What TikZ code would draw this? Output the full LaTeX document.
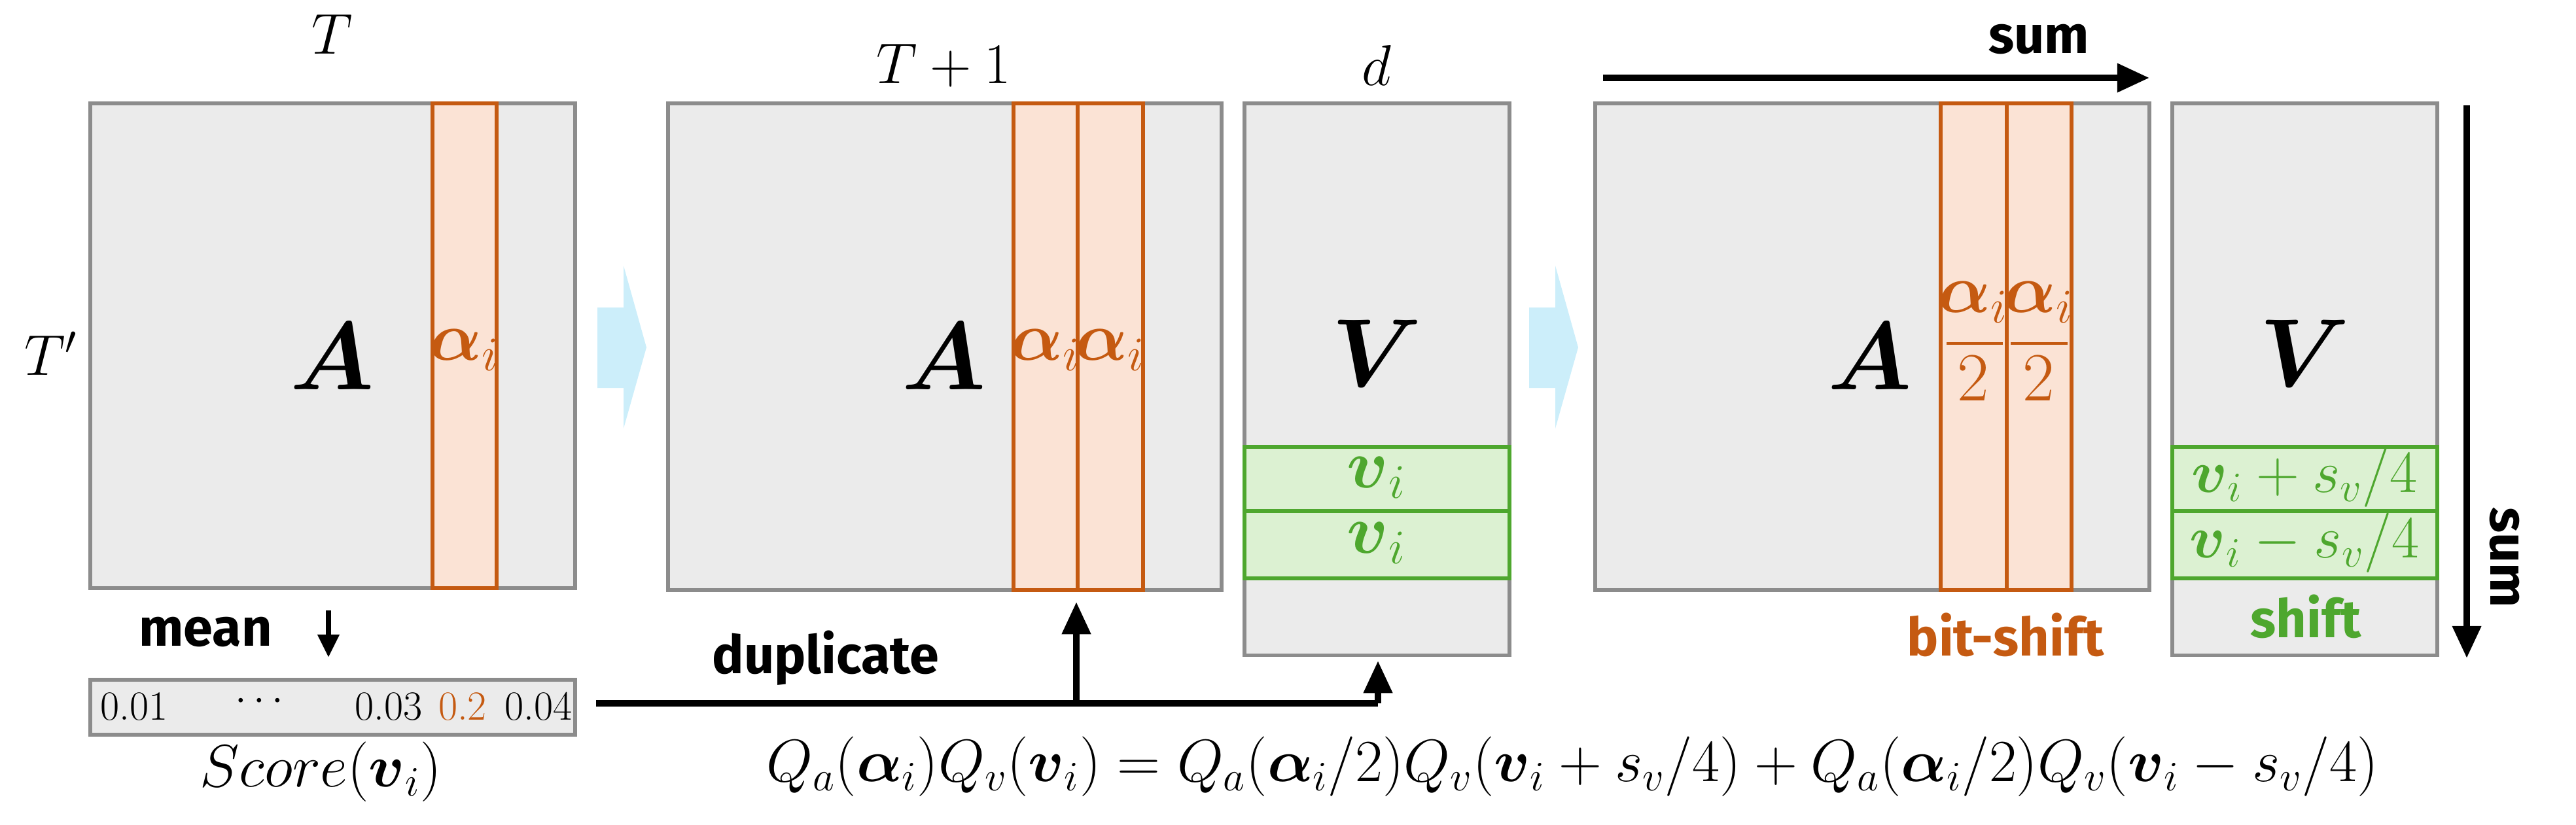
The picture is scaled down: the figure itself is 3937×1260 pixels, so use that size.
\RequirePackage{fix-cm}
\documentclass[tikz,border=0pt]{standalone}
\usepackage{amsmath}
\usepackage{fontspec}
\newfontfamily\sansb{Fira Sans}
\usetikzlibrary{arrows.meta}
\definecolor{gfill}{HTML}{EBEBEB}
\definecolor{gline}{HTML}{8C8C8C}
\definecolor{ored}{HTML}{C55A11}
\definecolor{ofill}{HTML}{FBE3D5}
\definecolor{grn}{HTML}{4EA72E}
\definecolor{gfl}{HTML}{DCF1D2}
\definecolor{lblue}{HTML}{CCEEFA}
\newcommand{\fs}[1]{\fontsize{#1}{#1}\selectfont}
\begin{document}
\begin{tikzpicture}[x=0.01cm,y=-0.01cm,
 box/.style={draw=gline,fill=gfill,line width=1.7pt,inner sep=0,outer sep=0,anchor=north west},
 obox/.style={draw=ored,fill=ofill,line width=1.7pt,inner sep=0,outer sep=0,anchor=north west},
 gbox/.style={draw=grn,fill=gfl,line width=1.7pt,inner sep=0,outer sep=0,anchor=north west},
 mlab/.style={font=\fs{25}},
 big/.style={font=\fs{42}},
 olab/.style={text=ored,font=\fs{30}},
 glab/.style={text=grn,font=\fs{30}},
 slab/.style={font=\sansb\bfseries\fs{23}},
 arr/.style={line width=2.8pt,-{Triangle[length=14pt,width=12pt]}}]
\useasboundingbox (0,0) rectangle (3937,1260);
% matrix 1
\node[box,minimum width=7.41cm,minimum height=7.41cm] (A1) at (138,158) {};
\node[obox,minimum width=0.98cm,minimum height=7.41cm] (c1) at (661,158) {};
\node[big] (A1t) at (508,545) {$\boldsymbol{A}$};
\node[olab] (a1) at (710,535) {$\boldsymbol{\alpha}_i$};
\node[mlab] (T) at (508,52) {$T$};
\node[mlab] (Tp) at (78,540) {$T'$};
% flow arrow 1
\fill[lblue] (913,470) -- (953,470) -- (953,406) -- (988,531) -- (953,655) -- (953,593) -- (913,593) -- cycle;
% matrix 2
\node[box,minimum width=8.45cm,minimum height=7.44cm] (A2) at (1021,158) {};
\node[obox,minimum width=0.98cm,minimum height=7.44cm] (c2) at (1549,158) {};
\node[obox,minimum width=1.00cm,minimum height=7.44cm] (c3) at (1647,158) {};
\node[big] (A2t) at (1443,545) {$\boldsymbol{A}$};
\node[olab] (a2) at (1598,535) {$\boldsymbol{\alpha}_i$};
\node[olab] (a3) at (1697,535) {$\boldsymbol{\alpha}_i$};
\node[mlab] (T1) at (1442,100) {$T+1$};
% V1
\node[box,minimum width=4.05cm,minimum height=8.43cm] (V1) at (1902,158) {};
\node[gbox,minimum width=4.05cm,minimum height=0.98cm] (g1) at (1902,683) {};
\node[gbox,minimum width=4.05cm,minimum height=1.03cm] (g2) at (1902,781) {};
\node[big] (V1t) at (2104,540) {$\boldsymbol{V}$};
\node[glab] (v1) at (2104,730) {$\boldsymbol{v}_i$};
\node[glab] (v2) at (2104,830) {$\boldsymbol{v}_i$};
\node[mlab] (d) at (2104,100) {$d$};
% flow arrow 2
\fill[lblue] (2337,470) -- (2377,470) -- (2377,406) -- (2412,531) -- (2377,655) -- (2377,593) -- (2337,593) -- cycle;
% matrix 3
\node[box,minimum width=8.46cm,minimum height=7.44cm] (A3) at (2438,158) {};
\node[obox,minimum width=1.01cm,minimum height=7.44cm] (c4) at (2966,158) {};
\node[obox,minimum width=0.99cm,minimum height=7.44cm] (c5) at (3067,158) {};
\node[big] (A3t) at (2858,545) {$\boldsymbol{A}$};
\node[olab] (f1) at (3016,462) {$\boldsymbol{\alpha}_i$};
\node[olab] (f2) at (3116,462) {$\boldsymbol{\alpha}_i$};
\draw[ored,line width=1.2pt] (2975,525) -- (3061,525) (3073,525) -- (3160,525);
\node[olab] (t1) at (3016,578) {$2$};
\node[olab] (t2) at (3116,578) {$2$};
\node[slab,text=ored] (bs) at (3065,970) {bit-shift};
% V2
\node[box,minimum width=4.05cm,minimum height=8.43cm] (V2) at (3320,158) {};
\node[gbox,minimum width=4.05cm,minimum height=0.98cm] (g3) at (3320,683) {};
\node[gbox,minimum width=4.05cm,minimum height=1.03cm] (g4) at (3320,781) {};
\node[big] (V2t) at (3522,540) {$\boldsymbol{V}$};
\node[glab,font=\fs{26}] (v3) at (3522,730) {$\boldsymbol{v}_i+s_v/4$};
\node[glab,font=\fs{26}] (v4) at (3522,830) {$\boldsymbol{v}_i-s_v/4$};
\node[slab,text=grn] (sh) at (3524,942) {shift};
% sum arrows
\coordinate (s1a) at (2450,119); \coordinate (s1b) at (3285,119);
\draw[arr] (s1a) -- (s1b);
\node[slab] (sum1) at (3116,60) {sum};
\coordinate (s2a) at (3770,161); \coordinate (s2b) at (3770,1006);
\draw[arr] (s2a) -- (s2b);
\node[slab,rotate=-90] (sum2) at (3828,852) {sum};
% score
\node[slab] (mean) at (314,966) {mean};
\coordinate (m1) at (502,933); \coordinate (m2) at (502,1005);
\draw[line width=2.4pt,-{Triangle[length=10pt,width=9pt]}] (m1) -- (m2);
\node[box,minimum width=7.41cm,minimum height=0.84cm] (S) at (138,1039) {};
\node[font=\fs{18}] (n1) at (205,1080) {0.01};
\node[font=\bfseries\fs{18}] (n2) at (402,1072) {$\cdots$};
\node[font=\fs{18}] (n3) at (594,1080) {0.03};
\node[font=\fs{18},text=ored] (n4) at (707,1080) {0.2};
\node[font=\fs{18}] (n5) at (823,1080) {0.04};
\node[font=\fs{26}] (sc) at (490,1180) {$Score(\boldsymbol{v}_i)$};
% duplicate connectors
\coordinate (j0) at (911,1075);
\coordinate (j1) at (1645,1075);
\coordinate (j2) at (2106,1075);
\draw[line width=2.8pt] (j0) -- (j2);
\draw[arr] (j1) -- (1645,920);
\draw[arr] (j2) -- (2106,1010);
\node[slab] (dup) at (1262,1006) {duplicate};
% equation
\node[font=\fs{26}] (eq) at (2403,1172) {$Q_a(\boldsymbol{\alpha}_i)Q_v(\boldsymbol{v}_i)=Q_a(\boldsymbol{\alpha}_i/2)Q_v(\boldsymbol{v}_i+s_v/4)+Q_a(\boldsymbol{\alpha}_i/2)Q_v(\boldsymbol{v}_i-s_v/4)$};
\end{tikzpicture}
\end{document}
